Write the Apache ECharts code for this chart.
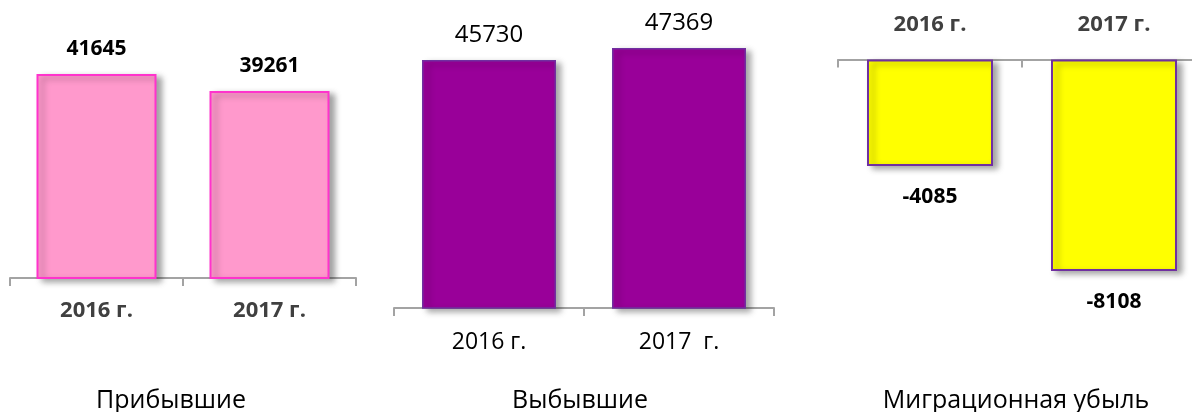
<!DOCTYPE html>
<html>
<head>
<meta charset="utf-8">
<script src="https://cdn.jsdelivr.net/npm/echarts@6/dist/echarts.min.js"></script>
<style>
  html, body { margin: 0; padding: 0; background: #fff; overflow: hidden; width: 1192px; height: 412px; }
  #chart { width: 1216px; height: 412px; }
</style>
</head>
<body>
<div id="chart"></div>
<script>
// ---- data ----
const categoriesArrivals = ['2016 г.', '2017 г.'];
const arrivals = [41645, 39261];
const categoriesDepartures = ['2016 г.', '2017  г.'];
const departures = [45730, 47369];
const categoriesMigration = ['2016 г.', '2017 г.'];
const migration = [-4085, -8108];
const panelTitles = ['Прибывшие', 'Выбывшие', 'Миграционная убыль'];

// ---- styles ----
const FONT = '"Open Sans", "Noto Sans", "DejaVu Sans", sans-serif';
const axisGray = '#a3a3a3';
const shadow = { shadowColor: 'rgba(0,0,0,0.35)', shadowBlur: 6, shadowOffsetX: 5, shadowOffsetY: 3 };

function catAxis(gridIndex, cats, opts) {
  return Object.assign({
    type: 'category',
    gridIndex: gridIndex,
    data: cats,
    boundaryGap: true,
    axisLine: { show: true, lineStyle: { color: axisGray, width: 2 } },
    axisTick: { show: true, length: 8, lineStyle: { color: axisGray, width: 2 } },
    splitLine: { show: false }
  }, opts);
}
function valAxis(gridIndex, min, max) {
  return { type: 'value', gridIndex: gridIndex, min: min, max: max, show: false, splitLine: { show: false } };
}
function titleAt(text, x) {
  return { text: text, left: x, top: 383, textAlign: 'center',
    textStyle: { fontFamily: FONT, fontSize: 25, fontWeight: 'normal', color: '#000' } };
}

const chart = echarts.init(document.getElementById('chart'), null, { renderer: 'canvas' });
chart.setOption({
  animation: false,
  backgroundColor: '#ffffff',
  title: [
    titleAt(panelTitles[0], 166),
    titleAt(panelTitles[1], 575),
    titleAt(panelTitles[2], 1011)
  ],
  grid: [
    { left: 10, width: 346, top: 50, height: 228 },
    { left: 394, width: 380, top: 28.6, height: 279.4 },
    { left: 838, width: 368, top: 59.5, height: 234.8 }
  ],
  xAxis: [
    catAxis(0, categoriesArrivals, {
      axisLabel: { margin: 22, fontFamily: FONT, fontSize: 22, fontWeight: 'bold', color: '#404040' }
    }),
    catAxis(1, categoriesDepartures, {
      axisLabel: { margin: 23, fontFamily: FONT, fontSize: 23, fontWeight: 'normal', color: '#000' }
    }),
    catAxis(2, categoriesMigration, {
      position: 'top',
      axisTick: { show: true, inside: true, length: 8, lineStyle: { color: axisGray, width: 2 } },
      axisLabel: { margin: 24, fontFamily: FONT, fontSize: 22, fontWeight: 'bold', color: '#404040' }
    })
  ],
  yAxis: [
    valAxis(0, 13000, 45000),
    valAxis(1, 12000, 50000),
    valAxis(2, -9000, 0)
  ],
  series: [
    {
      type: 'bar', xAxisIndex: 0, yAxisIndex: 0, data: arrivals, barWidth: 120,
      itemStyle: Object.assign({ color: '#ff99cc', borderColor: '#ff33cc', borderWidth: 2 }, shadow),
      label: { show: true, position: 'top', distance: 14, fontFamily: FONT, fontSize: 21, fontWeight: 'bold', color: '#000' }
    },
    {
      type: 'bar', xAxisIndex: 1, yAxisIndex: 1, data: departures, barWidth: 134,
      itemStyle: Object.assign({ color: '#990099', borderColor: '#7030a0', borderWidth: 1.5 }, shadow),
      label: { show: true, position: 'top', distance: 13, fontFamily: FONT, fontSize: 24, fontWeight: 'normal', color: '#000' }
    },
    {
      type: 'bar', xAxisIndex: 2, yAxisIndex: 2, data: migration, barWidth: 126,
      itemStyle: Object.assign({ color: '#ffff00', borderColor: '#7030a0', borderWidth: 2 }, shadow),
      label: { show: true, position: 'bottom', distance: 20, fontFamily: FONT, fontSize: 21, fontWeight: 'bold', color: '#000' }
    }
  ]
});
</script>
</body>
</html>
